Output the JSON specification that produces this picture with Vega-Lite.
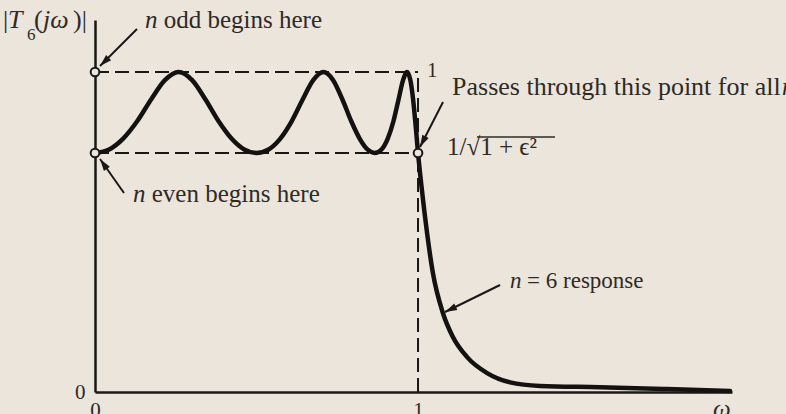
{
  "$schema": "https://vega.github.io/schema/vega-lite/v6.json",
  "width": 637,
  "height": 372,
  "autosize": {"type": "none"},
  "padding": {"left": 95, "top": 20, "right": 54, "bottom": 22},
  "background": "#ece5dc",
  "config": {"view": {"stroke": null}, "font": "Liberation Serif"},
  "datasets": {
    "curve": [
      {"x": 0, "y": 0.747}, {"x": 0.0436, "y": 0.758}, {"x": 0.0872, "y": 0.792}, {"x": 0.1305, "y": 0.846},
      {"x": 0.1736, "y": 0.914}, {"x": 0.2164, "y": 0.9745}, {"x": 0.2588, "y": 1}, {"x": 0.3007, "y": 0.9745},
      {"x": 0.342, "y": 0.914}, {"x": 0.3827, "y": 0.846}, {"x": 0.4226, "y": 0.792}, {"x": 0.4618, "y": 0.758},
      {"x": 0.5, "y": 0.747}, {"x": 0.5373, "y": 0.758}, {"x": 0.5736, "y": 0.792}, {"x": 0.6088, "y": 0.846},
      {"x": 0.6428, "y": 0.914}, {"x": 0.6756, "y": 0.9745}, {"x": 0.7071, "y": 1}, {"x": 0.7373, "y": 0.9745},
      {"x": 0.766, "y": 0.914}, {"x": 0.7934, "y": 0.846}, {"x": 0.8192, "y": 0.792}, {"x": 0.8434, "y": 0.758},
      {"x": 0.866, "y": 0.747}, {"x": 0.887, "y": 0.758}, {"x": 0.9063, "y": 0.792}, {"x": 0.9239, "y": 0.846},
      {"x": 0.9397, "y": 0.914}, {"x": 0.9537, "y": 0.9745}, {"x": 0.9659, "y": 1}, {"x": 0.9763, "y": 0.9745},
      {"x": 0.9848, "y": 0.914}, {"x": 0.9914, "y": 0.846}, {"x": 0.9962, "y": 0.792}, {"x": 0.999, "y": 0.758},
      {"x": 1, "y": 0.747},
      {"x": 1.012, "y": 0.631}, {"x": 1.028, "y": 0.497}, {"x": 1.046, "y": 0.372}, {"x": 1.077, "y": 0.247},
      {"x": 1.108, "y": 0.172}, {"x": 1.152, "y": 0.109}, {"x": 1.214, "y": 0.059}, {"x": 1.285, "y": 0.03},
      {"x": 1.378, "y": 0.019}, {"x": 1.563, "y": 0.015}, {"x": 1.771, "y": 0.009}, {"x": 1.966, "y": 0.003}
    ],
    "dashes": [
      {"x": 0, "y": 1, "x2": 1, "y2": 1},
      {"x": 0, "y": 0.747, "x2": 1, "y2": 0.747},
      {"x": 1, "y": 0, "x2": 1, "y2": 1}
    ],
    "circles": [{"x": 0, "y": 1}, {"x": 0, "y": 0.747}, {"x": 1, "y": 0.747}],
    "arrows": [
      {"id": "odd", "x": 0.0155, "y": 1.0188, "x2": 0.13, "y2": 1.1344},
      {"id": "even", "x": 0.0155, "y": 0.7281, "x2": 0.0898, "y2": 0.6219},
      {"id": "passes", "x": 1.0062, "y": 0.7656, "x2": 1.0774, "y2": 0.9063},
      {"id": "n6", "x": 1.0836, "y": 0.25, "x2": 1.2539, "y2": 0.3344}
    ]
  },
  "encoding": {
    "x": {
      "field": "x", "type": "quantitative",
      "scale": {"domain": [0, 1.972], "nice": false, "zero": false},
      "axis": {"values": [0, 1], "title": null, "grid": false, "ticks": false, "tickSize": 0,
        "labelFontSize": 21, "labelFont": "Liberation Serif", "labelColor": "#2e2a26", "labelPadding": 7,
        "labelFlush": false, "labelOverlap": false, "domainColor": "#1a1816", "domainWidth": 2.5}
    },
    "y": {
      "field": "y", "type": "quantitative",
      "scale": {"domain": [0, 1.1625], "nice": false, "zero": false},
      "axis": {"values": [0], "title": null, "grid": false, "ticks": false, "tickSize": 0,
        "labelFontSize": 21, "labelFont": "Liberation Serif", "labelColor": "#2e2a26", "labelPadding": 10,
        "labelFlush": false, "labelOverlap": false, "domainColor": "#1a1816", "domainWidth": 2.5}
    }
  },
  "layer": [
    {
      "data": {"name": "dashes"},
      "mark": {"type": "rule", "strokeDash": [14, 6], "strokeWidth": 2, "color": "#1a1816"},
      "encoding": {"x2": {"field": "x2"}, "y2": {"field": "y2"}}
    },
    {
      "data": {"name": "curve"},
      "mark": {"type": "line", "interpolate": "monotone", "strokeWidth": 4.5, "color": "#141211", "strokeCap": "round"},
      "encoding": {}
    },
    {
      "data": {"name": "arrows"},
      "mark": {"type": "rule", "strokeWidth": 2, "color": "#1a1816"},
      "encoding": {"x2": {"field": "x2"}, "y2": {"field": "y2"}}
    },
    {
      "data": {"name": "arrows"},
      "transform": [{"filter": "datum.id == 'odd'"}],
      "mark": {"type": "point", "shape": "M0,0L0.3,1L-0.3,1Z", "size": 576, "filled": true, "opacity": 1, "color": "#1a1816", "angle": 226}
    },
    {
      "data": {"name": "arrows"},
      "transform": [{"filter": "datum.id == 'even'"}],
      "mark": {"type": "point", "shape": "M0,0L0.3,1L-0.3,1Z", "size": 576, "filled": true, "opacity": 1, "color": "#1a1816", "angle": 325}
    },
    {
      "data": {"name": "arrows"},
      "transform": [{"filter": "datum.id == 'passes'"}],
      "mark": {"type": "point", "shape": "M0,0L0.3,1L-0.3,1Z", "size": 576, "filled": true, "opacity": 1, "color": "#1a1816", "angle": 207}
    },
    {
      "data": {"name": "arrows"},
      "transform": [{"filter": "datum.id == 'n6'"}],
      "mark": {"type": "point", "shape": "M0,0L0.3,1L-0.3,1Z", "size": 576, "filled": true, "opacity": 1, "color": "#1a1816", "angle": 244}
    },
    {
      "data": {"name": "circles"},
      "mark": {"type": "point", "shape": "circle", "size": 75, "filled": true, "opacity": 1, "fill": "#ece5dc", "stroke": "#1a1816", "strokeWidth": 2}
    },
    {
      "data": {"values": [{"x": 1.1827, "y": 0.797, "x2": 1.4241}]},
      "mark": {"type": "rule", "strokeWidth": 1.5, "color": "#2e2a26"},
      "encoding": {"x2": {"field": "x2"}}
    },
    {
      "data": {"values": [
        {"x": 0.1548, "y": 1.1375, "t": "n"},
        {"x": 0.1176, "y": 0.5938, "t": "n"},
        {"x": 2.127, "y": 0.928, "t": "n"},
        {"x": 1.913, "y": -0.078, "t": "ω"}
      ]},
      "mark": {"type": "text", "font": "Liberation Serif", "fontSize": 25, "fontStyle": "italic", "align": "left", "baseline": "alphabetic", "color": "#2e2a26"},
      "encoding": {"text": {"field": "t"}}
    },
    {
      "data": {"values": [
        {"x": 0.2128, "y": 1.1375, "t": "odd begins here"},
        {"x": 0.1757, "y": 0.5938, "t": "even begins here"},
        {"x": 1.0898, "y": 0.7406, "t": "1/√1 + ϵ²"}
      ]},
      "mark": {"type": "text", "font": "Liberation Serif", "fontSize": 25, "align": "left", "baseline": "alphabetic", "color": "#2e2a26"},
      "encoding": {"text": {"field": "t"}}
    },
    {
      "data": {"values": [{"x": 1.1053, "y": 0.928, "t": "Passes through this point for all"}]},
      "mark": {"type": "text", "font": "Liberation Serif", "fontSize": 26, "align": "left", "baseline": "alphabetic", "color": "#2e2a26"},
      "encoding": {"text": {"field": "t"}}
    },
    {
      "data": {"values": [{"x": 1.2848, "y": 0.325, "t": "n"}]},
      "mark": {"type": "text", "font": "Liberation Serif", "fontSize": 23, "fontStyle": "italic", "align": "left", "baseline": "alphabetic", "color": "#2e2a26"},
      "encoding": {"text": {"field": "t"}}
    },
    {
      "data": {"values": [{"x": 1.3375, "y": 0.325, "t": "= 6 response"}]},
      "mark": {"type": "text", "font": "Liberation Serif", "fontSize": 23, "align": "left", "baseline": "alphabetic", "color": "#2e2a26"},
      "encoding": {"text": {"field": "t"}}
    },
    {
      "data": {"values": [{"x": 1.0279, "y": 0.984, "t": "1"}]},
      "mark": {"type": "text", "font": "Liberation Serif", "fontSize": 21, "align": "left", "baseline": "alphabetic", "color": "#2e2a26"},
      "encoding": {"text": {"field": "t"}}
    },
    {
      "data": {"values": [
        {"x": -0.2848, "y": 1.1375, "t": "|"},
        {"x": -0.1889, "y": 1.1375, "t": "("},
        {"x": -0.0681, "y": 1.1375, "t": ")|"}
      ]},
      "mark": {"type": "text", "font": "Liberation Serif", "fontSize": 26, "align": "left", "baseline": "alphabetic", "color": "#2e2a26"},
      "encoding": {"text": {"field": "t"}}
    },
    {
      "data": {"values": [
        {"x": -0.2693, "y": 1.1375, "t": "T"},
        {"x": -0.161, "y": 1.1375, "t": "jω"}
      ]},
      "mark": {"type": "text", "font": "Liberation Serif", "fontSize": 26, "fontStyle": "italic", "align": "left", "baseline": "alphabetic", "color": "#2e2a26"},
      "encoding": {"text": {"field": "t"}}
    },
    {
      "data": {"values": [{"x": -0.2105, "y": 1.1, "t": "6"}]},
      "mark": {"type": "text", "font": "Liberation Serif", "fontSize": 17, "align": "left", "baseline": "alphabetic", "color": "#2e2a26"},
      "encoding": {"text": {"field": "t"}}
    }
  ]
}
